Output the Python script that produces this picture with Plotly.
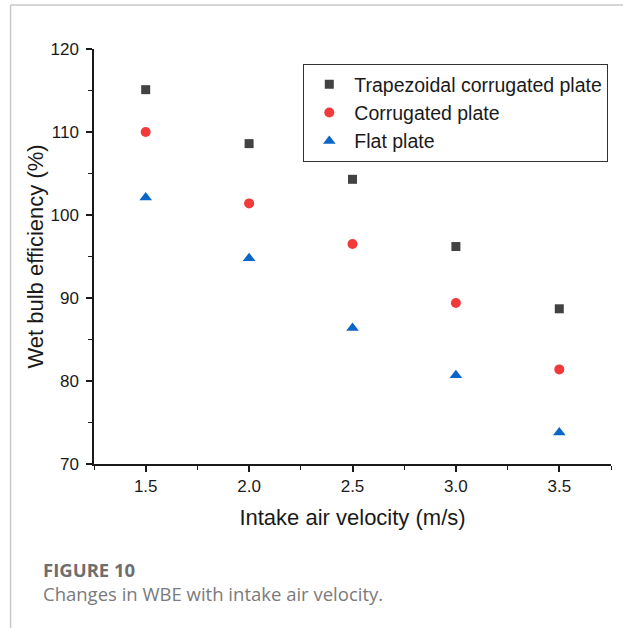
import plotly.graph_objects as go

velocity = [1.5, 2.0, 2.5, 3.0, 3.5]
trapezoidal = [115.1, 108.6, 104.3, 96.2, 88.7]
corrugated = [110.0, 101.4, 96.5, 89.4, 81.4]
flat = [102.1, 94.8, 86.4, 80.7, 73.8]
series_names = ["Trapezoidal corrugated plate", "Corrugated plate", "Flat plate"]
x_ticks = [1.5, 2.0, 2.5, 3.0, 3.5]
x_tick_text = ["1.5", "2.0", "2.5", "3.0", "3.5"]
y_ticks = [70, 80, 90, 100, 110, 120]

W, H = 623, 628
L, R, T, B = 93.5, 12, 49, 164

fig = go.Figure()
fig.add_trace(go.Scatter(x=velocity, y=trapezoidal, mode="markers", name=series_names[0],
                         marker=dict(symbol="square", size=9, color="#424242")))
fig.add_trace(go.Scatter(x=velocity, y=corrugated, mode="markers", name=series_names[1],
                         marker=dict(symbol="circle", size=10, color="#f23a3a")))
fig.add_trace(go.Scatter(x=velocity, y=flat, mode="markers", name=series_names[2],
                         marker=dict(symbol="triangle-up", size=11, color="#0a66c8")))

pw = W - L - R
ph = H - T - B
def px(x):
    return (x - L) / pw
def py(y):
    return (H - B - y) / ph

axis_font = dict(family="Liberation Sans, Arial, sans-serif", size=17, color="#1a1a1a")
title_font = dict(family="Liberation Sans, Arial, sans-serif", size=22, color="#1a1a1a")
fig.update_layout(
    width=W, height=H,
    margin=dict(l=L, r=R, t=T, b=B, pad=0),
    paper_bgcolor="white", plot_bgcolor="white",
    showlegend=True,
    legend=dict(x=px(303), y=py(64), xanchor="left", yanchor="top",
                bordercolor="#333", borderwidth=1, bgcolor="white",
                font=dict(family="Liberation Sans, Arial, sans-serif", size=19.5, color="#1a1a1a"),
                tracegroupgap=0, itemsizing="trace", itemwidth=40),
    xaxis=dict(range=[1.25, 3.75], tickvals=x_ticks, ticktext=x_tick_text,
               showline=True, linecolor="#1a1a1a", linewidth=1.5, showgrid=False, zeroline=False,
               ticks="outside", ticklen=6, tickwidth=1.5, tickcolor="#1a1a1a",
               tickfont=axis_font,
               minor=dict(dtick=0.25, tick0=1.25, ticks="outside", ticklen=4, tickwidth=1.2, tickcolor="#1a1a1a"),
               title=dict(text="Intake air velocity (m/s)", standoff=14, font=title_font)),
    yaxis=dict(range=[70, 120], tickvals=y_ticks,
               showline=True, linecolor="#1a1a1a", linewidth=1.5, showgrid=False, zeroline=False,
               ticks="outside", ticklen=6, tickwidth=1.5, tickcolor="#1a1a1a",
               tickfont=axis_font, ticklabelstandoff=4,
               minor=dict(dtick=5, tick0=70, ticks="outside", ticklen=4, tickwidth=1.2, tickcolor="#1a1a1a"),
               title=dict(text="Wet bulb efficiency (%)", standoff=1, font=title_font)),
)

# page frame lines
fig.add_shape(type="line", xref="paper", yref="paper", x0=px(10), x1=px(623), y0=py(5), y1=py(5),
              line=dict(color="#c8c8c8", width=1.5))
fig.add_shape(type="line", xref="paper", yref="paper", x0=px(10), x1=px(10), y0=py(5), y1=py(628),
              line=dict(color="#c8c8c8", width=1.5))

fig.add_annotation(xref="paper", yref="paper", x=px(40), y=py(569), xanchor="left", yanchor="middle",
                   text="<b>FIGURE 10</b>", showarrow=False,
                   font=dict(family="Open Sans, sans-serif", size=18.5, color="#6e6e6e"))
fig.add_annotation(xref="paper", yref="paper", x=px(40), y=py(593), xanchor="left", yanchor="middle",
                   text="Changes in WBE with intake air velocity.", showarrow=False,
                   font=dict(family="Open Sans, sans-serif", size=18.5, color="#7a7a7a"))

fig.write_html("out.html")
